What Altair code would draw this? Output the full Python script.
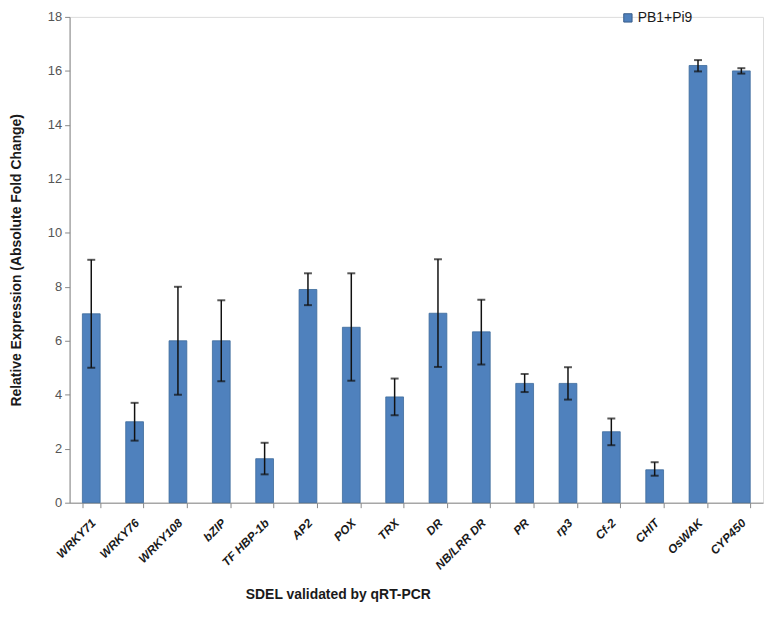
import altair as alt
import pandas as pd

genes = ["WRKY71", "WRKY76", "WRKY108", "bZIP", "TF HBP-1b", "AP2", "POX", "TRX",
         "DR", "NB/LRR DR", "PR", "rp3", "Cf-2", "CHIT", "OsWAK", "CYP450"]
values = [7.0, 3.0, 6.0, 6.0, 1.63, 7.9, 6.5, 3.92, 7.02, 6.33, 4.42, 4.42, 2.63, 1.22, 16.2, 16.0]
err_low = [5.0, 2.3, 4.0, 4.5, 1.05, 7.32, 4.52, 3.24, 5.03, 5.12, 4.1, 3.82, 2.13, 1.0, 15.98, 15.9]
err_high = [9.0, 3.7, 8.0, 7.5, 2.22, 8.5, 8.5, 4.6, 9.02, 7.52, 4.77, 5.02, 3.12, 1.5, 16.4, 16.1]
series = "PB1+Pi9"
y_ticks = [0, 2, 4, 6, 8, 10, 12, 14, 16, 18]

df = pd.DataFrame({"gene": genes, "value": values, "low": err_low, "high": err_high,
                   "series": [series] * len(genes)})

FONT = "Liberation Sans"

x_enc = alt.X("gene:N", sort=genes,
              scale=alt.Scale(paddingInner=0.59, paddingOuter=0.295),
              axis=alt.Axis(title="SDEL validated by qRT-PCR", labelAngle=-45, labelAlign="right",
                            labelBaseline="middle", labelPadding=13, labelOffset=2,
                            labelFont=FONT, labelFontSize=12, labelFontStyle="italic",
                            labelFontWeight="bold", labelColor="#1a1a1a",
                            tickBand="extent", tickSize=5, tickColor="#888888",
                            domainColor="#888888", titleFont=FONT, titleFontSize=14,
                            titleFontWeight="bold", titleColor="#1a1a1a",
                            titleX=270, titleY=92, titleAlign="center", titleBaseline="middle"))

bars = alt.Chart(df).mark_bar(stroke="#3C6A9A", strokeWidth=0.8).encode(
    x=x_enc,
    y=alt.Y("value:Q", scale=alt.Scale(domain=[0, 18], nice=False),
            axis=alt.Axis(values=y_ticks, title="Relative Expression (Absolute Fold Change)",
                          grid=False, tickSize=5, tickColor="#888888", domainColor="#888888",
                          labelFont=FONT, labelFontSize=13, labelColor="#555555", labelPadding=3,
                          titleFont=FONT, titleFontSize=14, titleFontWeight="bold",
                          titleColor="#1a1a1a", titleX=-53, titleY=244.5, titleAngle=-90,
                          titleAlign="center", titleBaseline="middle")),
    color=alt.Color("series:N", scale=alt.Scale(range=["#4F81BD"]),
                    legend=alt.Legend(title=None, orient="none", legendX=555, legendY=-6,
                                      symbolType="square", symbolSize=70,
                                      symbolStrokeColor="#385D8A", symbolStrokeWidth=1,
                                      labelFont=FONT, labelFontSize=14, labelColor="#1a1a1a",
                                      labelOffset=3)),
)

rules = alt.Chart(df).mark_rule(color="#111111", strokeWidth=1.5).encode(
    x=alt.X("gene:N", sort=genes), y="low:Q", y2="high:Q")

caps_hi = alt.Chart(df).mark_tick(color="#111111", thickness=2, size=8).encode(
    x=alt.X("gene:N", sort=genes), y="high:Q")
caps_lo = alt.Chart(df).mark_tick(color="#111111", thickness=2, size=8).encode(
    x=alt.X("gene:N", sort=genes), y="low:Q")

chart = alt.layer(bars, rules, caps_hi, caps_lo).properties(
    width=698, height=489,
    autosize=alt.AutoSizeParams(type="none"),
    padding={"left": 62, "top": 7, "right": 2, "bottom": 100},
).configure_view(stroke=None).configure(background="white")

chart.save("out.html", embed_options={"renderer": "svg", "actions": False})
